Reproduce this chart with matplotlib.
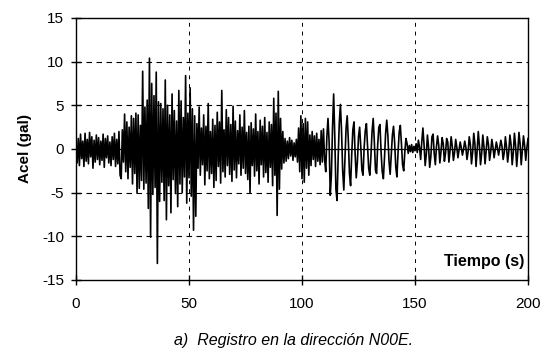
import numpy as np
import matplotlib
matplotlib.use("Agg")
import matplotlib.pyplot as plt

plt.rcParams['font.family'] = ['Liberation Sans', 'DejaVu Sans']
plt.rcParams['axes.unicode_minus'] = False

# acceleration record, N00E component, sampled every 0.5 s (one row = 10 s)
dt = 0.5
accel_rows = [
    [0.8, -1.6, 1.2, -1.9, 1.7, -1.1, 0.9, -2.0, 1.8, -1.4, 1.1, -1.7, 1.9, -0.9, 1.4, -2.2, 1.0, -1.5, 1.6, -1.2],
    [1.3, -1.8, 0.9, -1.3, 1.7, -2.1, 1.2, -1.0, 1.5, -1.6, 0.8, -1.9, 1.4, -1.2, 1.8, -2.0, 1.1, -1.7, 2.0, -3.0],
    [-3.4, 2.2, -1.5, 4.0, -2.6, 3.1, -3.4, 2.5, -2.1, 3.8, -4.0, 3.5, -2.8, 4.1, -5.0, 3.9, -4.5, 2.7, -3.6, 8.9],
    [-4.6, 4.8, -3.9, 5.6, -6.8, 10.4, -10.1, 7.5, -5.2, 6.1, -4.4, 8.8, -13.1, 5.4, -6.0, 5.2, -3.8, 4.6, -5.9, 7.9],
    [-8.1, 5.0, -4.2, 3.9, -7.3, 6.3, -3.5, 4.4, -5.1, 3.2, -6.6, 6.7, -4.0, 5.5, -5.0, 3.6, -3.2, 8.4, -6.2, 4.1],
    [-3.3, 7.0, -5.4, 4.6, -9.3, 3.8, -7.7, 2.9, -2.2, 4.8, -3.0, 2.4, -1.8, 3.9, -4.1, 2.6, -2.5, 5.2, -3.4, 2.0],
    [-2.8, 3.4, -4.4, 2.7, -3.6, 4.2, -2.0, 3.1, -3.9, 6.7, -2.6, 2.2, -3.2, 4.5, -1.9, 3.6, -2.9, 2.8, -3.7, 4.9],
    [-2.4, 3.2, -3.3, 2.1, -1.7, 3.9, -3.0, 2.5, -2.2, 4.4, -2.8, 1.9, -3.5, 2.6, -5.0, 3.0, -1.9, 2.3, -3.1, 4.0],
    [-2.5, 2.0, -4.0, 3.3, -1.8, 2.6, -3.2, 3.6, -2.7, 1.9, -3.8, 3.1, -2.1, 2.8, -4.2, 5.8, -3.0, 4.1, -7.6, 6.6],
    [-4.6, 3.5, -2.3, 2.0, -1.6, 1.2, -1.4, 0.9, -1.1, 1.3, -0.8, 1.0, -1.3, 0.7, -0.9, 1.1, -1.5, 2.4, -2.6, 3.8],
    [-3.4, 2.9, -3.8, 3.5, -2.2, 3.1, -3.0, 1.6, -1.9, 2.0, -1.2, 1.5, -2.0, 1.8, -1.4, 1.1, -1.8, 2.1, -1.5, 2.3],
    [-1.2, -2.6, 1.4, 3.5, 0.8, -5.3, -3.0, 2.4, 6.3, 1.5, -4.6, -5.9, -1.0, 3.0, 5.1, 2.0, -2.5, -4.7, -1.2, 2.4],
    [3.8, 1.0, -2.8, -4.2, -0.6, 2.2, 3.1, -0.5, -3.3, -1.5, 1.4, 2.5, 0.3, -2.4, -3.0, 0.2, 2.1, 2.9, 0.4, -2.2],
    [-3.0, -0.8, 2.0, 3.5, 0.9, -2.4, -2.8, 0.5, 2.5, 2.8, -0.4, -2.6, -3.4, -1.0, 1.8, 3.3, 1.5, -1.4, -2.9, -0.6],
    [1.6, 2.6, 0.7, -2.1, -3.2, -0.4, 1.9, 2.7, 0.6, -1.8, -2.5, -0.3, 1.2, 0.6, -0.5, 0.4, -0.3, 0.5, -0.4, 0.3],
    [-0.2, 0.6, -0.4, 1.0, 0.2, -1.2, 0.8, 2.4, 0.5, -1.9, -0.6, 1.6, 0.2, -2.1, -0.9, 1.4, 1.7, -0.5, -1.8, 0.3],
    [1.5, 0.4, -1.6, -0.3, 1.3, 0.6, -1.4, -0.5, 1.2, 0.8, -1.5, -0.2, 1.4, 0.3, -1.3, -0.4, 1.1, 0.2, -1.0, -0.1],
    [0.8, 0.1, -0.7, 0.0, 0.9, 0.2, -1.2, -0.3, 1.4, 0.5, -1.7, -0.4, 1.8, 0.6, -2.0, -0.2, 2.0, 0.4, -1.8, -0.5],
    [1.6, 0.3, -1.7, -0.2, 1.4, 0.5, -1.3, -0.3, 1.1, 0.2, -1.0, -0.1, 0.8, 0.1, -0.7, 0.2, 1.0, 0.3, -1.2, -0.4],
    [1.4, 0.2, -1.5, -0.3, 1.6, 0.5, -1.8, -0.4, 1.8, 0.4, -2.0, -0.3, 1.9, 0.6, -1.8, -0.2, 1.5, 0.4, -1.3, 0.1],
    [1.2],
]

x_ticks = [0, 50, 100, 150, 200]
y_ticks = [-15, -10, -5, 0, 5, 10, 15]

accel = np.concatenate([np.array(r, dtype=float) for r in accel_rows])
time = np.arange(len(accel)) * dt

fig = plt.figure(figsize=(5.48, 3.55), dpi=100)
ax = fig.add_axes([0.1387, 0.2113, 0.8248, 0.7380])

# dashed reference grid
for yv in [-10, -5, 5, 10]:
    ax.axhline(yv, color='black', lw=0.8, ls=(0, (5, 4)), zorder=1)
for xv in [50, 100, 150]:
    ax.axvline(xv, color='black', lw=0.7, ls=(0, (4, 5)), zorder=1)
ax.axhline(0, color='black', lw=0.9, zorder=2)

ax.plot(time, accel, color='black', lw=1.2, zorder=3)

ax.set_xlim(0, 200)
ax.set_ylim(-15, 15)
ax.set_xticks(x_ticks)
ax.set_yticks(y_ticks)
ax.tick_params(direction='inout', length=7, width=1, labelsize=11, colors='black')
ax.tick_params(axis='x', pad=9)
ax.tick_params(axis='y', pad=5)
for s in ax.spines.values():
    s.set_linewidth(1.0)

ax.set_ylabel('Acel (gal)', fontsize=11, fontweight='bold', labelpad=7)
ax.text(198.5, -12.9, 'Tiempo (s)', fontsize=11.5, fontweight='bold',
        ha='right', va='center', zorder=4,
        bbox=dict(facecolor='white', edgecolor='none', pad=1))

fig.text(0.535, 0.042, 'a)  Registro en la dirección N00E.', fontsize=11.5,
         style='italic', ha='center', va='center')

fig.savefig('out.png', dpi=100)
